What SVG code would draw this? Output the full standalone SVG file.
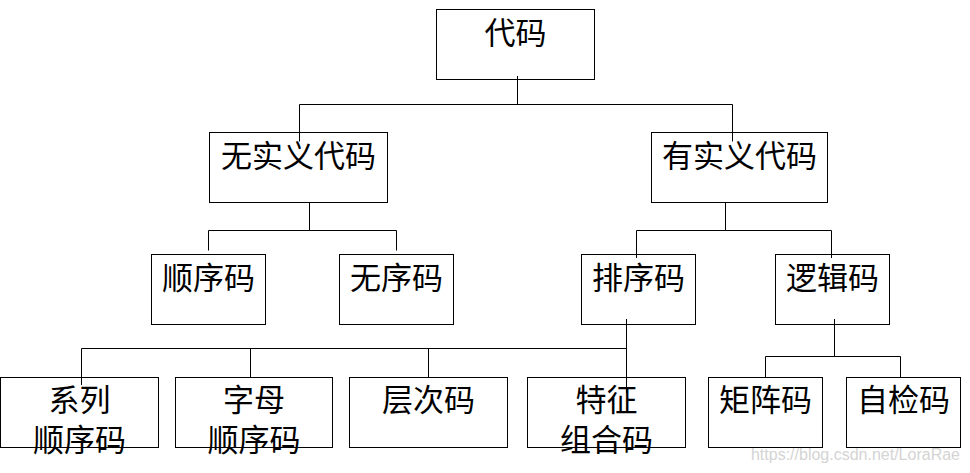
<svg xmlns="http://www.w3.org/2000/svg" width="970" height="473" viewBox="0 0 970 473">
<style>
.box{fill:#fff;stroke:#000;stroke-width:1}
.lbl{font-family:"Noto Sans CJK SC","Noto Sans CJK JP",sans-serif;font-size:31px;fill:#000;text-anchor:middle}
.con{fill:none;stroke:#000;stroke-width:1}
.wm{font-family:"Liberation Sans",Arial,sans-serif;font-size:16px;fill:#d4d4d4;text-anchor:end}
</style>
<rect width="970" height="473" fill="#fff"/>
<g id="n-daima"><rect class="box" x="436.5" y="9.5" width="158" height="70"/><text class="lbl" x="515.5" y="43.5">代码</text></g>
<g id="n-wushiyi"><rect class="box" x="209.5" y="132.5" width="178" height="70"/><text class="lbl" x="298.5" y="166.5">无实义代码</text></g>
<g id="n-youshiyi"><rect class="box" x="651.5" y="132.5" width="176" height="70"/><text class="lbl" x="739.5" y="166.5">有实义代码</text></g>
<g id="n-shunxu"><rect class="box" x="151.5" y="254.5" width="114" height="70"/><text class="lbl" x="208.5" y="288.5">顺序码</text></g>
<g id="n-wuxu"><rect class="box" x="339.5" y="254.5" width="114" height="70"/><text class="lbl" x="396.5" y="288.5">无序码</text></g>
<g id="n-paixu"><rect class="box" x="581.5" y="254.5" width="114" height="70"/><text class="lbl" x="638.5" y="288.5">排序码</text></g>
<g id="n-luoji"><rect class="box" x="775.5" y="254.5" width="114" height="70"/><text class="lbl" x="832.5" y="288.5">逻辑码</text></g>
<g id="n-xilie"><rect class="box" x="0.5" y="377.5" width="158" height="70"/><text class="lbl" x="79.5" y="411"><tspan x="79.5">系列</tspan><tspan x="79.5" y="451">顺序码</tspan></text></g>
<g id="n-zimu"><rect class="box" x="175.5" y="377.5" width="157" height="70"/><text class="lbl" x="254" y="411"><tspan x="254">字母</tspan><tspan x="254" y="451">顺序码</tspan></text></g>
<g id="n-cengci"><rect class="box" x="349.5" y="377.5" width="158" height="70"/><text class="lbl" x="428.5" y="411">层次码</text></g>
<g id="n-tezheng"><rect class="box" x="527.5" y="377.5" width="158" height="70"/><text class="lbl" x="606.5" y="411"><tspan x="606.5">特征</tspan><tspan x="606.5" y="451">组合码</tspan></text></g>
<g id="n-juzhen"><rect class="box" x="708.5" y="377.5" width="114" height="70"/><text class="lbl" x="765.5" y="411">矩阵码</text></g>
<g id="n-zijian"><rect class="box" x="846.5" y="377.5" width="114" height="70"/><text class="lbl" x="903.5" y="411">自检码</text></g>
<g id="connectors" class="con">
<path class="con" d="M517.5 76V104.5M299.5 141.5V104.5H732.5V141.5"/>
<path class="con" d="M309.5 202.5V230.5M208.5 250.5V230.5H396.5V250.5"/>
<path class="con" d="M725.5 202.5V230.5M636.5 258V230.5H831.5V258"/>
<path class="con" d="M626.5 319V393M81.5 385V348.5H626.5M250.5 348.5V377.5M428.5 348.5V377.5"/>
<path class="con" d="M834.5 319V356.5M765.5 377.5V356.5H900.5V377.5"/>
</g>
<text class="wm" x="960" y="460">https://blog.csdn.net/LoraRae</text>
</svg>
